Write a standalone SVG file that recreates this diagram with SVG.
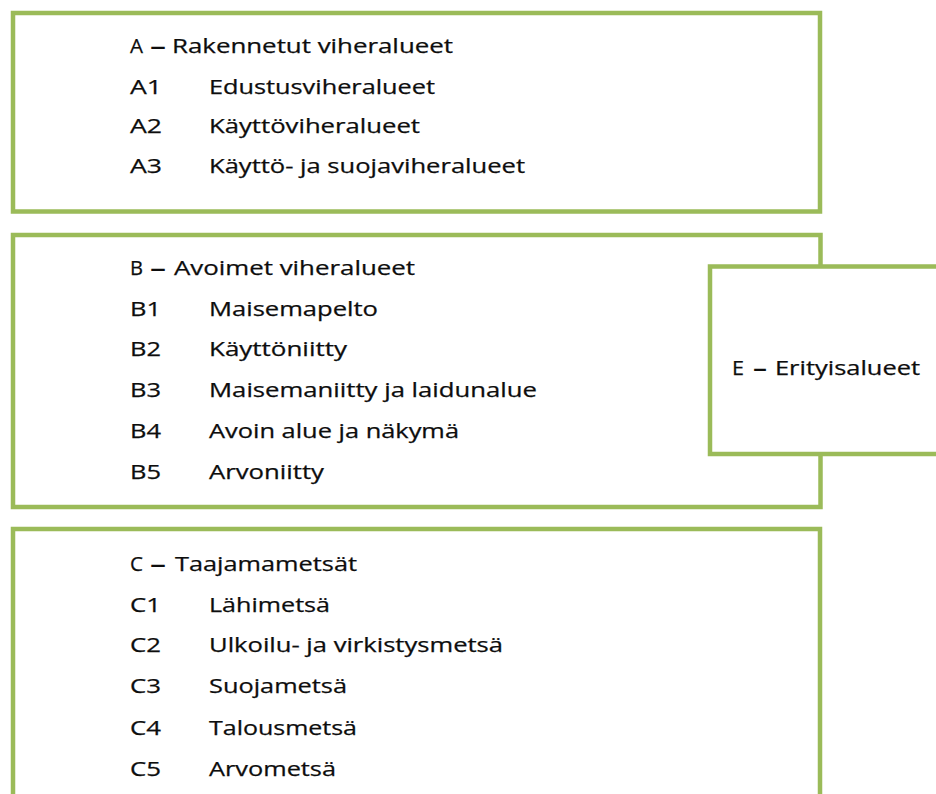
<svg xmlns="http://www.w3.org/2000/svg" width="936" height="794" viewBox="0 0 936 794">
<style>
.box{fill:#ffffff;stroke:#9bbb59;stroke-width:4.5}
.t{font-family:"Open Sans","Noto Sans","Liberation Sans",sans-serif;font-size:20px;fill:#0d0d0d;stroke:#0d0d0d;stroke-width:0.25}
.d{font-family:"Open Sans","Noto Sans","Liberation Sans",sans-serif;font-size:20px;font-weight:bold;fill:#0d0d0d}
</style>
<rect width="936" height="794" fill="#ffffff"/>
<g id="node-A">
<rect class="box" x="13" y="13" width="807" height="198.5"/>
<text class="t" x="130" y="53" textLength="13" lengthAdjust="spacingAndGlyphs">A</text><text class="d" x="150" y="53" textLength="16" lengthAdjust="spacingAndGlyphs">–</text>
<text class="t" x="172" y="53" textLength="281" lengthAdjust="spacingAndGlyphs">Rakennetut viheralueet</text>
<text class="t" x="130" y="94" textLength="32" lengthAdjust="spacingAndGlyphs">A1</text>
<text class="t" x="209" y="94" textLength="226" lengthAdjust="spacingAndGlyphs">Edustusviheralueet</text>
<text class="t" x="130" y="133" textLength="32" lengthAdjust="spacingAndGlyphs">A2</text>
<text class="t" x="209" y="133" textLength="211" lengthAdjust="spacingAndGlyphs">Käyttöviheralueet</text>
<text class="t" x="130" y="173" textLength="32" lengthAdjust="spacingAndGlyphs">A3</text>
<text class="t" x="209" y="173" textLength="316" lengthAdjust="spacingAndGlyphs">Käyttö- ja suojaviheralueet</text>
</g>
<g id="node-B">
<rect class="box" x="13" y="235" width="807.5" height="272"/>
<text class="t" x="130" y="275" textLength="13" lengthAdjust="spacingAndGlyphs">B</text><text class="d" x="150" y="275" textLength="16" lengthAdjust="spacingAndGlyphs">–</text>
<text class="t" x="174" y="275" textLength="241" lengthAdjust="spacingAndGlyphs">Avoimet viheralueet</text>
<text class="t" x="130" y="316" textLength="31" lengthAdjust="spacingAndGlyphs">B1</text>
<text class="t" x="209" y="316" textLength="169" lengthAdjust="spacingAndGlyphs">Maisemapelto</text>
<text class="t" x="130" y="356" textLength="31" lengthAdjust="spacingAndGlyphs">B2</text>
<text class="t" x="209" y="356" textLength="138" lengthAdjust="spacingAndGlyphs">Käyttöniitty</text>
<text class="t" x="130" y="397" textLength="31" lengthAdjust="spacingAndGlyphs">B3</text>
<text class="t" x="209" y="397" textLength="328" lengthAdjust="spacingAndGlyphs">Maisemaniitty ja laidunalue</text>
<text class="t" x="130" y="438" textLength="31" lengthAdjust="spacingAndGlyphs">B4</text>
<text class="t" x="209" y="438" textLength="250" lengthAdjust="spacingAndGlyphs">Avoin alue ja näkymä</text>
<text class="t" x="130" y="479" textLength="31" lengthAdjust="spacingAndGlyphs">B5</text>
<text class="t" x="209" y="479" textLength="115" lengthAdjust="spacingAndGlyphs">Arvoniitty</text>
</g>
<g id="node-E">
<rect class="box" x="710" y="266.5" width="260" height="187.5"/>
<text class="t" x="732" y="375" textLength="12" lengthAdjust="spacingAndGlyphs">E</text><text class="d" x="753" y="375" textLength="14" lengthAdjust="spacingAndGlyphs">–</text>
<text class="t" x="775" y="375" textLength="145" lengthAdjust="spacingAndGlyphs">Erityisalueet</text>
</g>
<g id="node-C">
<rect class="box" x="13" y="529" width="807" height="300"/>
<text class="t" x="130" y="571" textLength="13" lengthAdjust="spacingAndGlyphs">C</text><text class="d" x="150" y="571" textLength="16" lengthAdjust="spacingAndGlyphs">–</text>
<text class="t" x="175" y="571" textLength="182" lengthAdjust="spacingAndGlyphs">Taajamametsät</text>
<text class="t" x="130" y="612" textLength="31" lengthAdjust="spacingAndGlyphs">C1</text>
<text class="t" x="209" y="612" textLength="121" lengthAdjust="spacingAndGlyphs">Lähimetsä</text>
<text class="t" x="130" y="652" textLength="31" lengthAdjust="spacingAndGlyphs">C2</text>
<text class="t" x="209" y="652" textLength="294" lengthAdjust="spacingAndGlyphs">Ulkoilu- ja virkistysmetsä</text>
<text class="t" x="130" y="693" textLength="31" lengthAdjust="spacingAndGlyphs">C3</text>
<text class="t" x="209" y="693" textLength="138" lengthAdjust="spacingAndGlyphs">Suojametsä</text>
<text class="t" x="130" y="735" textLength="31" lengthAdjust="spacingAndGlyphs">C4</text>
<text class="t" x="209" y="735" textLength="148" lengthAdjust="spacingAndGlyphs">Talousmetsä</text>
<text class="t" x="130" y="776" textLength="31" lengthAdjust="spacingAndGlyphs">C5</text>
<text class="t" x="209" y="776" textLength="127" lengthAdjust="spacingAndGlyphs">Arvometsä</text>
</g>
<g id="connectors"/>
</svg>
